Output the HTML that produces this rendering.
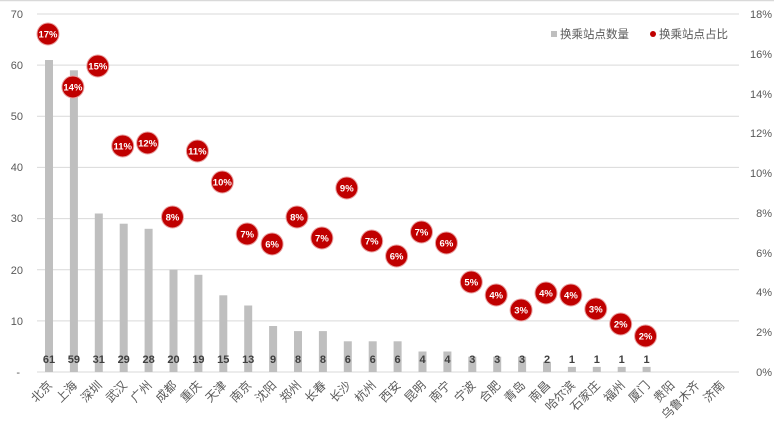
<!DOCTYPE html>
<html><head><meta charset="utf-8"><style>
html,body{margin:0;padding:0;background:#fff;}
svg{display:block;font-family:"Liberation Sans","Noto Sans CJK SC",sans-serif;}
</style></head><body>
<svg width="774" height="434" viewBox="0 0 774 434">
<rect x="0" y="0" width="774" height="434" fill="#fff"/>
<line x1="0" y1="0.5" x2="774" y2="0.5" stroke="#d9d9d9" stroke-width="1.5"/>
<g stroke="#d9d9d9" stroke-width="1">
<line x1="37" y1="14" x2="739" y2="14"/>
<line x1="37" y1="65.1" x2="739" y2="65.1"/>
<line x1="37" y1="116.3" x2="739" y2="116.3"/>
<line x1="37" y1="167.4" x2="739" y2="167.4"/>
<line x1="37" y1="218.6" x2="739" y2="218.6"/>
<line x1="37" y1="269.7" x2="739" y2="269.7"/>
<line x1="37" y1="320.9" x2="739" y2="320.9"/>
<line x1="37" y1="372" x2="739" y2="372"/>
</g>
<g font-size="11" fill="#595959" text-anchor="end">
<text x="23" y="18">70</text><text x="23" y="69">60</text><text x="23" y="120">50</text><text x="23" y="171">40</text><text x="23" y="222">30</text><text x="23" y="274">20</text><text x="23" y="325">10</text><text x="20" y="376">-</text>
</g>
<g font-size="11" fill="#595959" text-anchor="end">
<text x="772" y="18">18%</text><text x="772" y="58">16%</text><text x="772" y="98">14%</text><text x="772" y="137">12%</text><text x="772" y="177">10%</text><text x="772" y="217">8%</text><text x="772" y="257">6%</text><text x="772" y="296">4%</text><text x="772" y="336">2%</text><text x="772" y="376">0%</text>
</g>
<g fill="#bfbfbf">
<rect x="45" y="60" width="8" height="312"/>
<rect x="69.9" y="70.3" width="8" height="301.7"/>
<rect x="94.8" y="213.5" width="8" height="158.5"/>
<rect x="119.7" y="223.7" width="8" height="148.3"/>
<rect x="144.6" y="228.8" width="8" height="143.2"/>
<rect x="169.5" y="269.7" width="8" height="102.3"/>
<rect x="194.4" y="274.8" width="8" height="97.2"/>
<rect x="219.3" y="295.3" width="8" height="76.7"/>
<rect x="244.2" y="305.5" width="8" height="66.5"/>
<rect x="269.1" y="326" width="8" height="46"/>
<rect x="294" y="331.1" width="8" height="40.9"/>
<rect x="318.9" y="331.1" width="8" height="40.9"/>
<rect x="343.8" y="341.3" width="8" height="30.7"/>
<rect x="368.7" y="341.3" width="8" height="30.7"/>
<rect x="393.6" y="341.3" width="8" height="30.7"/>
<rect x="418.5" y="351.5" width="8" height="20.5"/>
<rect x="443.4" y="351.5" width="8" height="20.5"/>
<rect x="468.3" y="356.7" width="8" height="15.3"/>
<rect x="493.2" y="356.7" width="8" height="15.3"/>
<rect x="518.1" y="356.7" width="8" height="15.3"/>
<rect x="543" y="361.8" width="8" height="10.2"/>
<rect x="567.9" y="366.9" width="8" height="5.1"/>
<rect x="592.8" y="366.9" width="8" height="5.1"/>
<rect x="617.7" y="366.9" width="8" height="5.1"/>
<rect x="642.6" y="366.9" width="8" height="5.1"/>
</g>
<g font-size="11" font-weight="bold" fill="#404040" text-anchor="middle">
<text x="49" y="363">61</text><text x="73.9" y="363">59</text><text x="98.8" y="363">31</text><text x="123.7" y="363">29</text><text x="148.6" y="363">28</text><text x="173.5" y="363">20</text><text x="198.4" y="363">19</text><text x="223.3" y="363">15</text><text x="248.2" y="363">13</text><text x="273.1" y="363">9</text><text x="298" y="363">8</text><text x="322.9" y="363">8</text><text x="347.8" y="363">6</text><text x="372.7" y="363">6</text><text x="397.6" y="363">6</text><text x="422.5" y="363">4</text><text x="447.4" y="363">4</text><text x="472.3" y="363">3</text><text x="497.2" y="363">3</text><text x="522.1" y="363">3</text><text x="547" y="363">2</text><text x="571.9" y="363">1</text><text x="596.8" y="363">1</text><text x="621.7" y="363">1</text><text x="646.6" y="363">1</text>
</g>
<g font-size="12" fill="#595959" text-anchor="end">
<text x="53" y="386" transform="rotate(-45 53 386)">北京</text>
<text x="77.9" y="386" transform="rotate(-45 77.9 386)">上海</text>
<text x="102.8" y="386" transform="rotate(-45 102.8 386)">深圳</text>
<text x="127.7" y="386" transform="rotate(-45 127.7 386)">武汉</text>
<text x="152.6" y="386" transform="rotate(-45 152.6 386)">广州</text>
<text x="177.5" y="386" transform="rotate(-45 177.5 386)">成都</text>
<text x="202.4" y="386" transform="rotate(-45 202.4 386)">重庆</text>
<text x="227.3" y="386" transform="rotate(-45 227.3 386)">天津</text>
<text x="252.2" y="386" transform="rotate(-45 252.2 386)">南京</text>
<text x="277.1" y="386" transform="rotate(-45 277.1 386)">沈阳</text>
<text x="302" y="386" transform="rotate(-45 302 386)">郑州</text>
<text x="326.9" y="386" transform="rotate(-45 326.9 386)">长春</text>
<text x="351.8" y="386" transform="rotate(-45 351.8 386)">长沙</text>
<text x="376.7" y="386" transform="rotate(-45 376.7 386)">杭州</text>
<text x="401.6" y="386" transform="rotate(-45 401.6 386)">西安</text>
<text x="426.5" y="386" transform="rotate(-45 426.5 386)">昆明</text>
<text x="451.4" y="386" transform="rotate(-45 451.4 386)">南宁</text>
<text x="476.3" y="386" transform="rotate(-45 476.3 386)">宁波</text>
<text x="501.2" y="386" transform="rotate(-45 501.2 386)">合肥</text>
<text x="526.1" y="386" transform="rotate(-45 526.1 386)">青岛</text>
<text x="551" y="386" transform="rotate(-45 551 386)">南昌</text>
<text x="575.9" y="386" transform="rotate(-45 575.9 386)">哈尔滨</text>
<text x="600.8" y="386" transform="rotate(-45 600.8 386)">石家庄</text>
<text x="625.7" y="386" transform="rotate(-45 625.7 386)">福州</text>
<text x="650.6" y="386" transform="rotate(-45 650.6 386)">厦门</text>
<text x="675.5" y="386" transform="rotate(-45 675.5 386)">贵阳</text>
<text x="700.4" y="386" transform="rotate(-45 700.4 386)">乌鲁木齐</text>
<text x="725.3" y="386" transform="rotate(-45 725.3 386)">济南</text>
</g>
<g fill="#c00000" stroke="#e8a0a0" stroke-width="1">
<circle cx="48" cy="34" r="11"/><circle cx="72.9" cy="87" r="11"/><circle cx="97.8" cy="66" r="11"/><circle cx="122.7" cy="146" r="11"/><circle cx="147.6" cy="143" r="11"/><circle cx="172.5" cy="217" r="11"/><circle cx="197.4" cy="151" r="11"/><circle cx="222.3" cy="182" r="11"/><circle cx="247.2" cy="234" r="11"/><circle cx="272.1" cy="244" r="11"/><circle cx="297" cy="217" r="11"/><circle cx="321.9" cy="238" r="11"/><circle cx="346.8" cy="188" r="11"/><circle cx="371.7" cy="241" r="11"/><circle cx="396.6" cy="256" r="11"/><circle cx="421.5" cy="232" r="11"/><circle cx="446.4" cy="243" r="11"/><circle cx="471.3" cy="282" r="11"/><circle cx="496.2" cy="295" r="11"/><circle cx="521.1" cy="310" r="11"/><circle cx="546" cy="293" r="11"/><circle cx="570.9" cy="295" r="11"/><circle cx="595.8" cy="309" r="11"/><circle cx="620.7" cy="324" r="11"/><circle cx="645.6" cy="336" r="11"/>
</g>
<g font-size="9.5" font-weight="bold" fill="#fff" text-anchor="middle">
<text x="48" y="37.5">17%</text><text x="72.9" y="90.5">14%</text><text x="97.8" y="69.5">15%</text><text x="122.7" y="149.5">11%</text><text x="147.6" y="146.5">12%</text><text x="172.5" y="220.5">8%</text><text x="197.4" y="154.5">11%</text><text x="222.3" y="185.5">10%</text><text x="247.2" y="237.5">7%</text><text x="272.1" y="247.5">6%</text><text x="297" y="220.5">8%</text><text x="321.9" y="241.5">7%</text><text x="346.8" y="191.5">9%</text><text x="371.7" y="244.5">7%</text><text x="396.6" y="259.5">6%</text><text x="421.5" y="235.5">7%</text><text x="446.4" y="246.5">6%</text><text x="471.3" y="285.5">5%</text><text x="496.2" y="298.5">4%</text><text x="521.1" y="313.5">3%</text><text x="546" y="296.5">4%</text><text x="570.9" y="298.5">4%</text><text x="595.8" y="312.5">3%</text><text x="620.7" y="327.5">2%</text><text x="645.6" y="339.5">2%</text>
</g>
<rect x="551" y="31" width="6" height="6" fill="#bfbfbf"/>
<text x="560" y="38" font-size="11.5" fill="#595959">换乘站点数量</text>
<circle cx="653" cy="34" r="3" fill="#c00000"/>
<text x="659" y="38" font-size="11.5" fill="#595959">换乘站点占比</text>
</svg>
</body></html>
